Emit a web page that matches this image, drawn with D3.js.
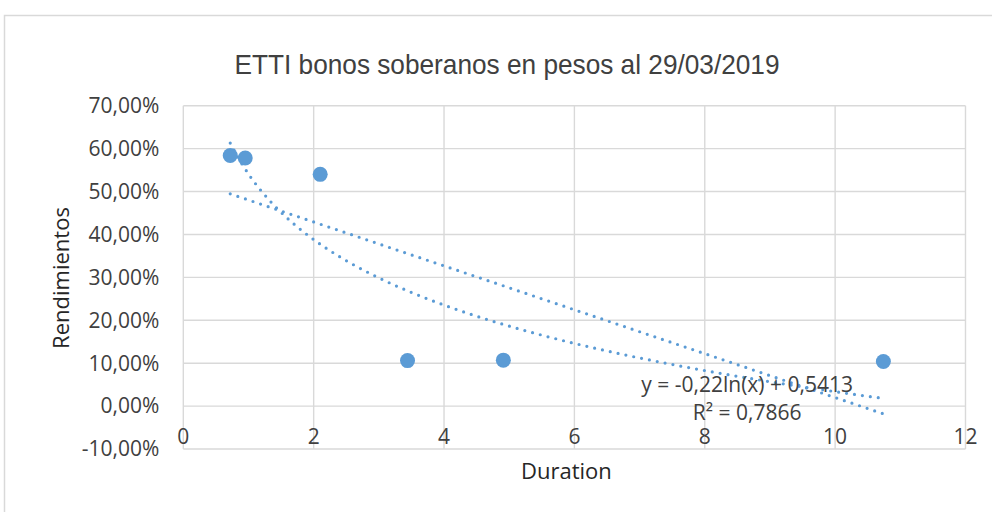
<!DOCTYPE html>
<meta charset="utf-8">

<style>
body { margin: 0; background: #fff; }
.chart text {
  font-family: "Open Sans", "Liberation Sans", sans-serif;
  fill: #404040;
}
.title text {
  font-family: "Liberation Sans Narrow", "Liberation Sans", sans-serif;
  fill: #404040;
}
.grid line { stroke: #d9d9d9; stroke-width: 1.4; }
.trend { fill: none; stroke: #5b9bd5; stroke-width: 3.2; stroke-linecap: round; stroke-dasharray: 0 8; }
</style>

<svg class="chart"></svg>

<script src="https://d3js.org/d3.v7.min.js"></script>
<script>

  // bonds: duration (years) vs yield
  var durations = [0.72, 0.95, 2.10, 3.44, 4.91, 10.74];
  var yields    = [0.584, 0.578, 0.540, 0.106, 0.107, 0.104];

  var xTicks = [0, 2, 4, 6, 8, 10, 12];
  var yTicks = [-0.1, 0, 0.1, 0.2, 0.3, 0.4, 0.5, 0.6, 0.7];

  var titleText   = "ETTI bonos soberanos en pesos al 29/03/2019";
  var xLabel      = "Duration";
  var yLabel      = "Rendimientos";
  var equationTxt = "y = -0,22ln(x) + 0,5413";
  var r2Txt       = "R² = 0,7866";

  var outerWidth  = 992;
  var outerHeight = 512;

  var margin = { top: 105.7, right: 26.5, bottom: 63, left: 183.3 };
  var width  = outerWidth - margin.left - margin.right;
  var height = outerHeight - margin.top - margin.bottom;

  var points = durations.map(function(d, i) { return { x: d, y: yields[i] }; });

  var xScale = d3.scaleLinear().domain([0, 12]).range([0, width]);
  var yScale = d3.scaleLinear().domain([-0.1, 0.7]).range([height, 0]);

  // Excel style: comma decimal, plain hyphen for negatives
  var pct = function(v) {
    return (v < 0 ? "-" : "") + d3.format(".2f")(Math.abs(v) * 100).replace(".", ",") + "%";
  };

  var svg = d3.select(".chart")
      .attr("width", outerWidth)
      .attr("height", outerHeight);

  // outer frame of the chart object
  svg.append("rect")
      .attr("x", 4.5)
      .attr("y", 15.5)
      .attr("width", outerWidth + 10)
      .attr("height", outerHeight + 10)
      .attr("fill", "none")
      .attr("stroke", "#d9d9d9")
      .attr("stroke-width", 1.5);

  svg.append("g")
      .attr("class", "title")
    .append("text")
      .attr("x", 507)
      .attr("y", 74)
      .attr("text-anchor", "middle")
      .attr("textLength", 545)
      .attr("lengthAdjust", "spacingAndGlyphs")
      .style("font-size", "28px")
      .text(titleText);

  var chart = svg.append("g")
      .attr("transform", "translate(" + margin.left + "," + margin.top + ")");

  var grid = chart.append("g").attr("class", "grid");

  grid.selectAll(".h")
      .data(yTicks)
    .enter().append("line")
      .attr("class", "h")
      .attr("x1", 0)
      .attr("x2", width)
      .attr("y1", function(d) { return yScale(d); })
      .attr("y2", function(d) { return yScale(d); });

  grid.selectAll(".v")
      .data(xTicks)
    .enter().append("line")
      .attr("class", "v")
      .attr("y1", yScale(0.7))
      .attr("y2", yScale(-0.1))
      .attr("x1", function(d) { return xScale(d); })
      .attr("x2", function(d) { return xScale(d); });

  // y tick labels
  chart.append("g")
      .selectAll("text")
      .data(yTicks)
    .enter().append("text")
      .attr("x", -24)
      .attr("y", function(d) { return yScale(d); })
      .attr("dy", "0.35em")
      .attr("text-anchor", "end")
      .style("font-size", "21px")
      .text(pct);

  // x tick labels (sit under the 0% axis line)
  chart.append("g")
      .selectAll("text")
      .data(xTicks)
    .enter().append("text")
      .attr("x", function(d) { return xScale(d); })
      .attr("y", yScale(0) + 38)
      .attr("text-anchor", "middle")
      .style("font-size", "21px")
      .text(function(d) { return d; });

  // regression fits computed from the points
  function fit(fx) {
    var xs = points.map(function(p) { return fx(p.x); });
    var mx = d3.mean(xs), my = d3.mean(points, function(p) { return p.y; });
    var sxy = 0, sxx = 0;
    xs.forEach(function(v, i) { sxy += (v - mx) * (points[i].y - my); sxx += (v - mx) * (v - mx); });
    var a = sxy / sxx, b = my - a * mx;
    return function(x) { return a * fx(x) + b; };
  }
  var logFit = fit(Math.log);
  var linFit = fit(function(x) { return x; });

  var xMin = d3.min(durations), xMax = d3.max(durations);
  var xs = d3.range(0, 101).map(function(i) { return xMin + (xMax - xMin) * i / 100; });

  var line = function(f) {
    return d3.line()
        .x(function(d) { return xScale(d); })
        .y(function(d) { return yScale(f(d)); })(xs);
  };

  chart.append("path").attr("class", "trend").attr("d", line(logFit));
  chart.append("path").attr("class", "trend").attr("d", line(linFit));

  chart.append("g")
      .selectAll("circle")
      .data(points)
    .enter().append("circle")
      .attr("cx", function(d) { return xScale(d.x); })
      .attr("cy", function(d) { return yScale(d.y); })
      .attr("r", 7.5)
      .attr("fill", "#5b9bd5");

  // trendline label
  var eq = chart.append("g")
      .attr("transform", "translate(" + xScale(8.65) + "," + yScale(0.05) + ")");
  eq.append("text")
      .attr("text-anchor", "middle")
      .attr("y", 7)
      .style("font-size", "21px")
      .text(equationTxt);
  eq.append("text")
      .attr("text-anchor", "middle")
      .attr("y", 35)
      .style("font-size", "21px")
      .text(r2Txt);

  // axis titles
  chart.append("text")
      .attr("x", width / 2 - 8)
      .attr("y", height + 30)
      .attr("text-anchor", "middle")
      .style("font-size", "22px")
      .style("fill", "#262626")
      .text(xLabel);

  chart.append("text")
      .attr("transform", "translate(" + (-margin.left + 69) + "," + (278 - margin.top) + ") rotate(-90)")
      .attr("text-anchor", "middle")
      .style("font-size", "22px")
      .style("fill", "#262626")
      .text(yLabel);

</script>
